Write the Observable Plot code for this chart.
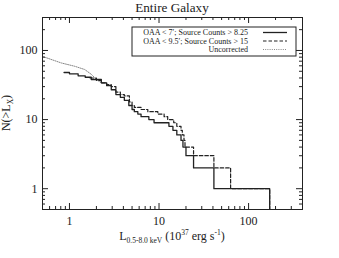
<!DOCTYPE html>
<html><head><meta charset="utf-8">
<script src="https://cdn.jsdelivr.net/npm/d3@7"></script>
<script src="https://cdn.jsdelivr.net/npm/@observablehq/plot@0.6"></script>
<style>body{margin:0;background:#fff} svg{display:block}</style>
</head><body><div id="chart"></div>
<script>
// OAA < 7'; Source Counts > 8.25 (solid)
const solidL = [0.87, 1.0, 1.25, 1.5, 1.75, 2.27, 2.6, 2.93, 3.3, 3.7, 4.1, 4.6, 5.0, 5.3, 5.8, 6.3, 7.7, 8.8, 12.9, 14.3, 15.8, 17.6, 18.5, 20, 24.3, 41, 172, 172];
const solidN = [48, 46, 43, 41, 38, 34, 31, 27, 23, 21, 19, 16, 14, 13, 12, 11, 10, 9, 8, 7, 6, 5, 4, 3, 2, 1, 1, 0.4];
// OAA < 9.5'; Source Counts > 15 (dashed)
const dashL = [1.7, 2.0, 2.27, 2.6, 2.93, 3.3, 3.7, 4.1, 4.67, 5.0, 5.3, 6.3, 7.5, 9.7, 11.4, 12.5, 14.6, 15.8, 17.6, 18.2, 19, 19.5, 24.3, 41, 63, 172, 172];
const dashN = [40, 37, 34, 32, 30, 25, 23, 22, 18, 16, 15, 14, 13, 12, 11, 10, 9, 8, 7, 6, 5, 4, 3, 2, 1, 1, 0.4];
// Uncorrected (dotted)
const uncL = [0.5, 0.81, 1.15, 1.48, 1.76, 2.0, 2.27];
const uncN = [82, 66, 59, 53, 45, 38, 34];

const xMajor = [1, 10, 100];
const xMinor = [0.5, 0.6, 0.7, 0.8, 0.9, 2, 3, 4, 5, 6, 7, 8, 9, 20, 30, 40, 50, 60, 70, 80, 90, 200, 300];
const yMajor = [1, 10, 100];
const yMinor = [0.6, 0.7, 0.8, 0.9, 2, 3, 4, 5, 6, 7, 8, 9, 20, 30, 40, 50, 60, 70, 80, 90, 200];

const titleText = "Entire Galaxy";
const legendLabels = ["OAA < 7′; Source Counts > 8.25", "OAA < 9.5′; Source Counts > 15", "Uncorrected"];

const toRows = (L, N) => L.map((l, i) => ({L: l, N: N[i]}));
const solid = toRows(solidL, solidN);
const dashed = toRows(dashL, dashN);
const uncorr = toRows(uncL, uncN);

const ink = "#222";
const fh = 258 - 17 - 49;
const fw = 339 - 42 - 37;

const chart = Plot.plot({
  width: 339, height: 258,
  marginLeft: 42, marginRight: 37, marginTop: 17, marginBottom: 49,
  style: {fontFamily: "'Liberation Serif', 'DejaVu Serif', serif", fontSize: "12px", background: "white", color: ink},
  x: {type: "log", domain: [0.5, 400]},
  y: {type: "log", domain: [0.5, 300]},
  marks: [
    Plot.line(uncorr, {x: "L", y: "N", stroke: "#888", strokeWidth: 1, strokeDasharray: "1,1.2", clip: true}),
    Plot.line(dashed, {x: "L", y: "N", curve: "step-after", stroke: ink, strokeWidth: 1.2, strokeDasharray: "3.5,2", clip: true}),
    Plot.line(solid, {x: "L", y: "N", curve: "step-after", stroke: ink, strokeWidth: 1.3, clip: true}),
    Plot.frame({stroke: ink, strokeWidth: 1}),
    Plot.tickX(xMajor, {x: d => d, insetTop: fh - 6, stroke: ink}),
    Plot.tickX(xMajor, {x: d => d, insetBottom: fh - 6, stroke: ink}),
    Plot.tickX(xMinor, {x: d => d, insetTop: fh - 3, stroke: ink}),
    Plot.tickX(xMinor, {x: d => d, insetBottom: fh - 3, stroke: ink}),
    Plot.tickY(yMajor, {y: d => d, insetRight: fw - 6, stroke: ink}),
    Plot.tickY(yMajor, {y: d => d, insetLeft: fw - 6, stroke: ink}),
    Plot.tickY(yMinor, {y: d => d, insetRight: fw - 3, stroke: ink}),
    Plot.tickY(yMinor, {y: d => d, insetLeft: fw - 3, stroke: ink}),
    Plot.axisX({ticks: xMajor, tickSize: 0, tickPadding: 7, label: null, tickFormat: d => String(d)}),
    Plot.axisY({ticks: yMajor, tickSize: 0, tickPadding: 5, label: null, tickFormat: d => String(d)})
  ]
});

const svg = d3.select(chart);
const font = "'Liberation Serif', 'DejaVu Serif', serif";

// title
svg.append("text").attr("x", 172).attr("y", 12).attr("text-anchor", "middle")
  .attr("font-family", font).attr("font-size", 13.2).attr("fill", ink).text(titleText);

// x-axis title
const xt = svg.append("text").attr("x", 172).attr("y", 240).attr("text-anchor", "middle")
  .attr("font-family", font).attr("font-size", 12).attr("fill", ink);
xt.append("tspan").text("L");
xt.append("tspan").attr("font-size", 7.5).attr("dy", 2.5).text("0.5-8.0 keV");
xt.append("tspan").attr("dy", -2.5).text(" (10");
xt.append("tspan").attr("font-size", 7.5).attr("dy", -5).text("37");
xt.append("tspan").attr("dy", 5).text(" erg s");
xt.append("tspan").attr("font-size", 7.5).attr("dy", -5).text("-1");
xt.append("tspan").attr("dy", 5).text(")");

// y-axis title
const yt = svg.append("text").attr("transform", "translate(10,113) rotate(-90)").attr("text-anchor", "middle")
  .attr("font-family", font).attr("font-size", 12).attr("fill", ink);
yt.append("tspan").text("N(>L");
yt.append("tspan").attr("font-size", 7.5).attr("dy", 2.5).text("X");
yt.append("tspan").attr("dy", -2.5).text(")");

// legend
const lg = svg.append("g").attr("font-family", font).attr("font-size", 8).attr("fill", ink);
lg.append("rect").attr("x", 132).attr("y", 27).attr("width", 164).attr("height", 29)
  .attr("fill", "white").attr("stroke", ink).attr("stroke-width", 1);
const styles = [
  {dash: null, stroke: ink, w: 1.3},
  {dash: "3.5,2", stroke: ink, w: 1.2},
  {dash: "1,1.2", stroke: "#888", w: 1}
];
legendLabels.forEach((t, i) => {
  const cy = 32.5 + i * 8.5;
  lg.append("text").attr("x", 248).attr("y", cy + 2.8).attr("text-anchor", "end").text(t);
  const ln = lg.append("line").attr("x1", 263).attr("x2", 287).attr("y1", cy).attr("y2", cy)
    .attr("stroke", styles[i].stroke).attr("stroke-width", styles[i].w);
  if (styles[i].dash) ln.attr("stroke-dasharray", styles[i].dash);
});

document.getElementById("chart").appendChild(chart);
</script>
</body></html>
